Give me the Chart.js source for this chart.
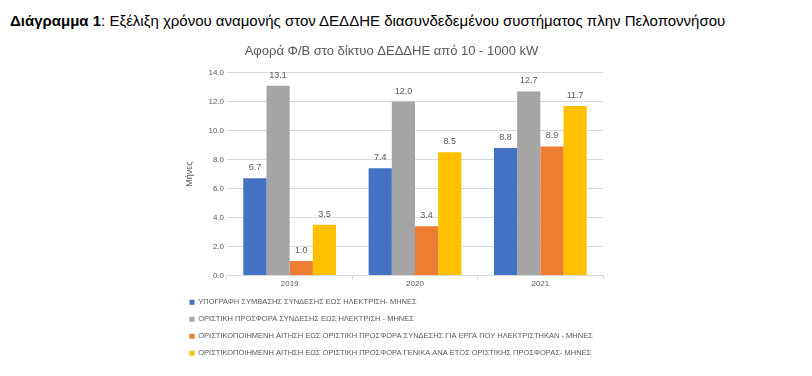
<!DOCTYPE html>
<html>
<head>
<meta charset="utf-8">
<script src="https://cdn.jsdelivr.net/npm/chart.js@4.4.0/dist/chart.umd.min.js"></script>
<style>
  body { margin: 0; background: #fff; width: 812px; height: 376px; overflow: hidden; position: relative; }
  #heading { position: absolute; left: 10px; top: 12px; font-family: "Liberation Sans", sans-serif; font-size: 15px; color: #000; white-space: nowrap; }
  #wrap { position: absolute; left: 180px; top: 36px; width: 480px; height: 331px; }
</style>
</head>
<body>
<div id="heading"><b>Διάγραμμα 1</b>: Εξέλιξη χρόνου αναμονής στον ΔΕΔΔΗΕ διασυνδεδεμένου συστήματος πλην Πελοποννήσου</div>
<div id="wrap"><canvas id="chart"></canvas></div>
<script>
const years = ["2019", "2020", "2021"];
const seriesNames = [
  "ΥΠΟΓΡΑΦΗ ΣΥΜΒΑΣΗΣ ΣΥΝΔΕΣΗΣ ΕΩΣ ΗΛΕΚΤΡΙΣΗ- ΜΗΝΕΣ",
  "ΟΡΙΣΤΙΚΗ ΠΡΟΣΦΟΡΑ ΣΥΝΔΕΣΗΣ ΕΩΣ ΗΛΕΚΤΡΙΣΗ - ΜΗΝΕΣ",
  "ΟΡΙΣΤΙΚΟΠΟΙΗΜΕΝΗ ΑΙΤΗΣΗ ΕΩΣ ΟΡΙΣΤΙΚΗ ΠΡΟΣΦΟΡΑ ΣΥΝΔΕΣΗΣ ΓΙΑ ΕΡΓΑ ΠΟΥ ΗΛΕΚΤΡΙΣΤΗΚΑΝ - ΜΗΝΕΣ",
  "ΟΡΙΣΤΙΚΟΠΟΙΗΜΕΝΗ ΑΙΤΗΣΗ ΕΩΣ ΟΡΙΣΤΙΚΗ ΠΡΟΣΦΟΡΑ ΓΕΝΙΚΑ ΑΝΑ ΕΤΟΣ ΟΡΙΣΤΙΚΗΣ ΠΡΟΣΦΟΡΑΣ- ΜΗΝΕΣ"
];
const sumvasiHlektrisi = [6.7, 7.4, 8.8];
const prosforaHlektrisi = [13.1, 12.0, 12.7];
const aitisiProsforaErga = [1.0, 3.4, 8.9];
const aitisiProsforaGenika = [3.5, 8.5, 11.7];
const colors = ["#4472C4", "#A5A5A5", "#ED7D31", "#FFC000"];
const yTicksMax = 14;
const yStep = 2;

const txtColor = "#595959";
const fontFam = "'Liberation Sans', sans-serif";

// etiquetas de valor encima de cada barra
const etiquetas = {
  id: "etiquetas",
  afterDatasetsDraw(chart) {
    const ctx = chart.ctx;
    ctx.save();
    ctx.font = "9px " + fontFam;
    ctx.fillStyle = txtColor;
    ctx.textAlign = "center";
    ctx.textBaseline = "bottom";
    chart.data.datasets.forEach((ds, i) => {
      const meta = chart.getDatasetMeta(i);
      meta.data.forEach((bar, j) => {
        ctx.fillText(ds.data[j].toFixed(1), bar.x, bar.y - 6);
      });
    });
    ctx.restore();
  }
};

const allSeries = [sumvasiHlektrisi, prosforaHlektrisi, aitisiProsforaErga, aitisiProsforaGenika];

new Chart(document.getElementById("chart"), {
  type: "bar",
  data: {
    labels: years,
    datasets: allSeries.map((d, i) => ({
      label: seriesNames[i],
      data: d,
      backgroundColor: colors[i],
      categoryPercentage: 0.74,
      barPercentage: 1.0
    }))
  },
  options: {
    responsive: true,
    maintainAspectRatio: false,
    animation: false,
    layout: { padding: { left: 0, right: 57, top: 0, bottom: 0 } },
    plugins: {
      title: {
        display: true,
        text: "Αφορά Φ/Β στο δίκτυο ΔΕΔΔΗΕ από 10 - 1000 kW",
        color: txtColor,
        font: { family: fontFam, size: 13, weight: "normal" },
        padding: { top: 8, bottom: 13 }
      },
      legend: {
        position: "bottom",
        align: "start",
        labels: {
          boxWidth: 5,
          boxHeight: 5,
          padding: 9.5,
          color: txtColor,
          font: { family: fontFam, size: 7.5 }
        }
      },
      tooltip: { enabled: false }
    },
    scales: {
      x: {
        grid: { display: true, offset: true, drawOnChartArea: false, tickLength: 4, color: "#D9D9D9" },
        border: { color: "#D9D9D9" },
        ticks: { color: txtColor, font: { family: fontFam, size: 8 }, padding: 0 }
      },
      y: {
        min: 0,
        max: yTicksMax,
        ticks: {
          stepSize: yStep,
          color: txtColor,
          font: { family: fontFam, size: 8 },
          callback: (v) => v.toFixed(1)
        },
        grid: { color: "#D9D9D9", drawTicks: false },
        border: { display: false },
        title: { display: true, text: "Μήνες", color: txtColor, font: { family: fontFam, size: 9 } },
        afterFit: (s) => { s.width = 47; }
      }
    }
  },
  plugins: [etiquetas]
});
</script>
</body>
</html>
